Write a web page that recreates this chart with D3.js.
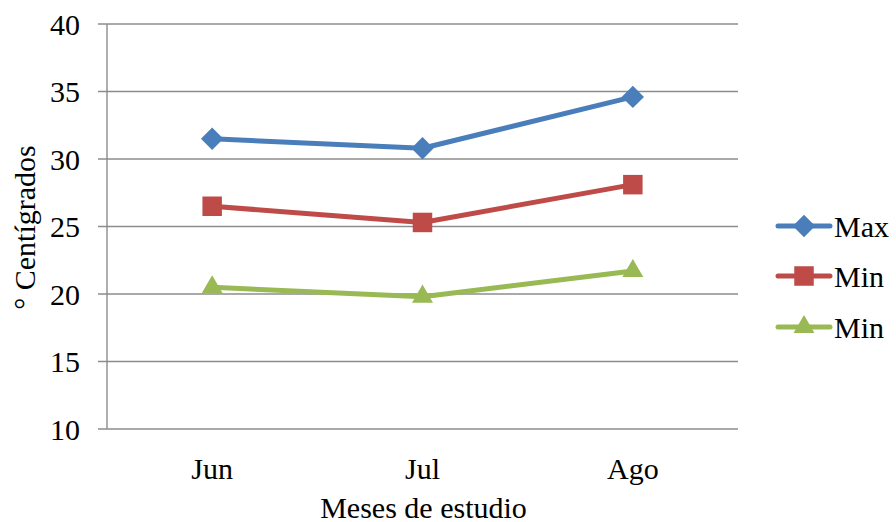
<!DOCTYPE html>
<html>
<head>
<meta charset="utf-8">
<script src="https://cdn.jsdelivr.net/npm/d3@7"></script>
<style>
  html, body { margin: 0; padding: 0; background: #fff; }
  svg { display: block; font-family: "Liberation Serif", "Times New Roman", serif; }
</style>
</head>
<body>
<svg id="chart" width="896" height="522"></svg>
<script>
// Monthly temperatures (°C)
const categories = ["Jun", "Jul", "Ago"];
const seriesNames = ["Max", "Min", "Min"];
const maxValues = [31.5, 30.8, 34.6];
const minValues = [26.5, 25.3, 28.1];
const min2Values = [20.5, 19.8, 21.7];
const yTicks = [10, 15, 20, 25, 30, 35, 40];
const colors = ["#4a7ebb", "#be4b48", "#98b954"];

// marker shapes: diamond is a square turned 45°
const markers = [
  { type: d3.symbolSquare, size: 250, rotate: 45 },
  { type: d3.symbolSquare, size: 380, rotate: 0 },
  { type: d3.symbolTriangle, size: 190, rotate: 0 }
];

const series = [maxValues, minValues, min2Values].map((vals, i) => ({
  name: seriesNames[i], color: colors[i], marker: markers[i],
  values: vals.map((v, j) => ({ cat: categories[j], v }))
}));

const svg = d3.select("#chart");
const plot = { left: 107, right: 738, top: 24, bottom: 429 };
const fontSize = 30;

const x = d3.scaleBand().domain(categories).range([plot.left, plot.right]);
const y = d3.scaleLinear().domain([10, 40]).range([plot.bottom, plot.top]);
const gridColor = "#8c8c8c";

// horizontal gridlines
svg.append("g").selectAll("line").data(yTicks).join("line")
  .attr("x1", plot.left - 9).attr("x2", plot.right)
  .attr("y1", d => y(d)).attr("y2", d => y(d))
  .attr("stroke", gridColor).attr("stroke-width", 1.4);

// vertical axis line
svg.append("line")
  .attr("x1", plot.left).attr("x2", plot.left)
  .attr("y1", plot.top).attr("y2", plot.bottom)
  .attr("stroke", gridColor).attr("stroke-width", 1.4);

// y tick labels
svg.append("g").selectAll("text").data(yTicks).join("text")
  .attr("x", 80).attr("y", d => y(d))
  .attr("text-anchor", "end").attr("dominant-baseline", "central")
  .attr("font-size", fontSize).attr("fill", "#000")
  .text(d => d);

// x category labels
svg.append("g").selectAll("text").data(categories).join("text")
  .attr("x", d => x(d) + x.bandwidth() / 2).attr("y", 468)
  .attr("text-anchor", "middle").attr("dominant-baseline", "central")
  .attr("font-size", fontSize).attr("fill", "#000")
  .text(d => d);

// axis titles
svg.append("text")
  .attr("x", (plot.left + plot.right) / 2 + 1).attr("y", 507)
  .attr("text-anchor", "middle").attr("dominant-baseline", "central")
  .attr("font-size", fontSize).text("Meses de estudio");

svg.append("text")
  .attr("transform", `translate(24,${(plot.top + plot.bottom) / 2 + 1}) rotate(-90)`)
  .attr("text-anchor", "middle").attr("dominant-baseline", "central")
  .attr("font-size", fontSize).text("° Centígrados");

// series lines and markers
const line = d3.line().x(d => x(d.cat) + x.bandwidth() / 2).y(d => y(d.v));
const markerPath = m => d3.symbol().type(m.type).size(m.size)();

series.forEach(s => {
  const g = svg.append("g");
  g.append("path").datum(s.values)
    .attr("d", line).attr("fill", "none")
    .attr("stroke", s.color).attr("stroke-width", 5)
    .attr("stroke-linejoin", "round").attr("stroke-linecap", "round");
  g.selectAll("path.m").data(s.values).join("path")
    .attr("class", "m")
    .attr("transform", d => `translate(${x(d.cat) + x.bandwidth() / 2},${y(d.v)}) rotate(${s.marker.rotate})`)
    .attr("d", markerPath(s.marker))
    .attr("fill", s.color);
});

// legend
const legendY = [226, 276, 327];
const legend = svg.append("g");
series.forEach((s, i) => {
  const gy = legendY[i];
  legend.append("line")
    .attr("x1", 778).attr("x2", 830).attr("y1", gy).attr("y2", gy)
    .attr("stroke", s.color).attr("stroke-width", 5).attr("stroke-linecap", "round");
  legend.append("path")
    .attr("transform", `translate(804,${gy}) rotate(${s.marker.rotate})`)
    .attr("d", markerPath(s.marker))
    .attr("fill", s.color);
  legend.append("text")
    .attr("x", 834).attr("y", gy)
    .attr("dominant-baseline", "central")
    .attr("font-size", fontSize).text(s.name);
});
</script>
</body>
</html>
